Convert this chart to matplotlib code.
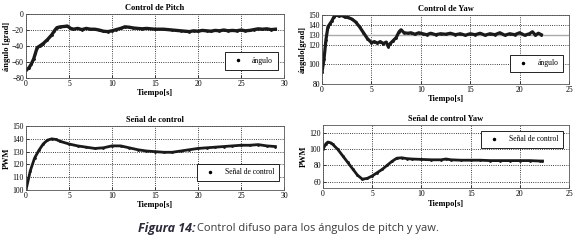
import matplotlib.pyplot as plt
from matplotlib.lines import Line2D

plt.rcParams["font.family"] = ["Liberation Serif", "DejaVu Serif"]

# pitch angle
pitch_t = [0, 0.3, 0.6, 0.9, 1.1, 1.3, 1.6, 2.0, 2.5, 3.0, 3.3, 3.6, 4.0, 4.5, 4.8, 5.2, 5.5,
           6.0, 6.5, 7.0, 7.5, 8.0, 8.5, 9.0, 9.5, 10.0, 10.5, 11.0, 11.5, 12.0, 12.5, 13.0,
           13.5, 14.0, 15.0, 16.0, 17.0, 17.5, 18.0, 18.5, 19.0, 19.5, 20.0, 20.5, 21.0, 21.5,
           22.0, 22.5, 23.0, 23.5, 24.0, 24.5, 25.0, 25.5, 26.0, 26.5, 27.0, 27.5, 28.0, 28.5, 29.0]
pitch_y = [-70, -68, -63, -56, -49, -42, -40, -37, -32, -26, -21, -17, -16, -15.5, -15, -18, -19,
           -18, -19.5, -18, -19, -19, -20, -21.5, -22, -21, -19.5, -18, -16, -16.5, -17.5, -18,
           -18.5, -18, -19, -19, -20, -20.5, -21, -21.5, -22, -21, -21.5, -20.5, -21, -21.5,
           -20.5, -21, -20, -21, -20.5, -21, -20, -21, -20.5, -19.5, -18.5, -19, -18.5, -19.5, -19]

# yaw angle
yaw_t = [0, 0.2, 0.4, 0.6, 0.8, 1.0, 1.2, 1.4, 1.7, 2.0, 2.3, 2.6, 3.0, 3.4, 3.8, 4.2, 4.6, 5.0,
         5.3, 5.6, 5.9, 6.2, 6.5, 6.7, 6.9, 7.2, 7.5, 7.8, 8.0, 8.3, 8.7, 9.0, 9.4, 9.8, 10.2,
         10.6, 11.0, 11.5, 12.0, 12.5, 13.0, 13.5, 14.0, 14.5, 15.0, 15.5, 16.0, 16.5, 17.0,
         17.5, 18.0, 18.5, 19.0, 19.5, 20.0, 20.5, 21.0, 21.3, 21.6, 21.9, 22.2]
yaw_y = [92, 105, 125, 138, 141, 144, 148, 150, 149, 149.5, 148, 147.5, 146, 143, 138, 132, 126, 122,
         123, 121.5, 123, 121, 122.5, 118, 121, 124, 127, 133, 135, 132, 131.5, 132, 130.5, 132, 131,
         130, 131.5, 130, 131, 130.5, 131.5, 130, 131, 129.5, 131, 130, 131.5, 129.5, 131, 130,
         132, 129.5, 131, 130, 132, 129.5, 131, 133, 129.5, 131.5, 130]
yaw_ref = 130

# pitch control signal
pwm_pitch_t = [0, 0.5, 1.0, 1.5, 2.0, 2.5, 3.0, 3.5, 4.0, 5.0, 6.0, 7.0, 8.0, 9.0, 10.0, 11.0,
               12.0, 13.0, 14.0, 15.0, 16.0, 17.0, 18.0, 19.0, 20.0, 21.0, 22.0, 23.0, 24.0,
               25.0, 26.0, 27.0, 28.0, 29.0]
pwm_pitch_y = [100, 115, 125, 131, 136, 139, 140, 139.5, 138, 136, 134.5, 133.5, 132.5, 133, 134.5,
               134.5, 133, 131.5, 130.5, 130, 129.5, 129.5, 130.5, 131.5, 132.5, 133, 133.5, 134,
               134.5, 135, 135, 135.5, 134.5, 134]

# yaw control signal
pwm_yaw_t = [0, 0.3, 0.5, 0.8, 1.0, 1.5, 2.0, 2.5, 3.0, 3.5, 4.0, 4.5, 5.0, 5.5, 6.0, 6.5, 7.0,
             7.5, 8.0, 8.5, 9.0, 10.0, 11.0, 12.0, 12.5, 13.0, 14.0, 15.0, 16.0, 17.0, 18.0,
             19.0, 20.0, 21.0, 22.0, 22.3]
pwm_yaw_y = [100, 107, 109, 108, 106, 100, 92, 84, 76, 68, 63, 64, 67, 71, 75, 80, 85,
             89, 89.5, 88.5, 88, 87.5, 87, 87, 88, 87, 86.5, 86.5, 86.5, 86, 86, 86, 86, 86,
             85.5, 85.5]

fig = plt.figure(figsize=(5.75, 2.42), dpi=100)

TITLE_FS = 6
TICK_FS = 5.5


def style_axes(ax, title, ylabel, xlim, ylim, xticks, yticks):
    ax.set_xlim(xlim)
    ax.set_ylim(ylim)
    ax.set_xticks(xticks)
    ax.set_yticks(yticks)
    ax.tick_params(labelsize=TICK_FS, length=2, width=0.5, pad=1.5, direction="in")
    ax.grid(True, linestyle=":", color="black", linewidth=0.6)
    ax.set_title(title, fontsize=TITLE_FS, fontweight="bold", pad=3)
    ax.set_xlabel("Tiempo[s]", fontsize=TITLE_FS, fontweight="bold", labelpad=1)
    ax.set_ylabel(ylabel, fontsize=TITLE_FS, fontweight="bold", labelpad=1)
    for s in ax.spines.values():
        s.set_linewidth(0.6)
        s.set_color("#555555")


def add_legend(ax, label, loc, anchor):
    dot = Line2D([], [], marker=".", linestyle="none", color="black", markersize=3)
    leg = ax.legend([dot], [label], loc=loc, bbox_to_anchor=anchor, fontsize=5.5,
                    handlelength=2.2, fancybox=False, framealpha=1, borderpad=0.6)
    leg.get_frame().set_edgecolor("black")
    leg.get_frame().set_linewidth(0.6)


# top-left: pitch
ax1 = fig.add_axes([0.0452, 0.678, 0.4487, 0.264])
ax1.plot(pitch_t, pitch_y, color="#1a1a1a", linewidth=2.4, marker=".", markersize=2)
style_axes(ax1, "Control de Pitch", "ángulo [grad]", (0, 30), (-80, 0),
           range(0, 31, 5), range(-80, 1, 20))
add_legend(ax1, "ángulo", "lower right", (0.99, 0.07))

# top-right: yaw
ax2 = fig.add_axes([0.56, 0.653, 0.4296, 0.285])
ax2.axhline(yaw_ref, color="#aaaaaa", linewidth=1.0)
ax2.plot(yaw_t, yaw_y, color="#1a1a1a", linewidth=2.3, marker=".", markersize=2)
style_axes(ax2, "Control de Yaw", "ángulo[grad]", (0, 25), (80, 150),
           range(0, 26, 5), [80, 100, 120, 130, 140, 150])
add_legend(ax2, "ángulo", "lower right", (0.99, 0.12))

# bottom-left: pitch control signal
ax3 = fig.add_axes([0.0452, 0.215, 0.4487, 0.264])
ax3.plot(pwm_pitch_t, pwm_pitch_y, color="#1a1a1a", linewidth=2.0, marker=".", markersize=2)
style_axes(ax3, "Señal de control", "PWM", (0, 30), (100, 150),
           range(0, 31, 5), range(100, 151, 10))
add_legend(ax3, "Señal de control", "lower right", (0.995, 0.08))

# bottom-right: yaw control signal
ax4 = fig.add_axes([0.5617, 0.223, 0.428, 0.26])
ax4.plot(pwm_yaw_t, pwm_yaw_y, color="#1a1a1a", linewidth=2.0, marker=".", markersize=2)
style_axes(ax4, "Señal de control Yaw", "PWM", (0, 25), (52, 130),
           range(0, 26, 5), range(60, 121, 20))
add_legend(ax4, "Señal de control", "upper right", (0.99, 0.97))

# caption: bold italic label followed directly by the regular text
cap_font = ["Open Sans", "DejaVu Sans"]
lab = fig.text(0.24, 0.055, "Figura 14:", fontsize=9, fontstyle="italic", fontweight="bold",
               color="#2b2b3a", family=cap_font, ha="left", va="center")
fig.canvas.draw()
bb = lab.get_window_extent().transformed(fig.transFigure.inverted())
fig.text(bb.x1 + 0.003, 0.055, "Control difuso para los ángulos de pitch y yaw.", fontsize=8,
         color="#3a3a3a", family=cap_font, ha="left", va="center")

fig.savefig("out.png", dpi=100)
